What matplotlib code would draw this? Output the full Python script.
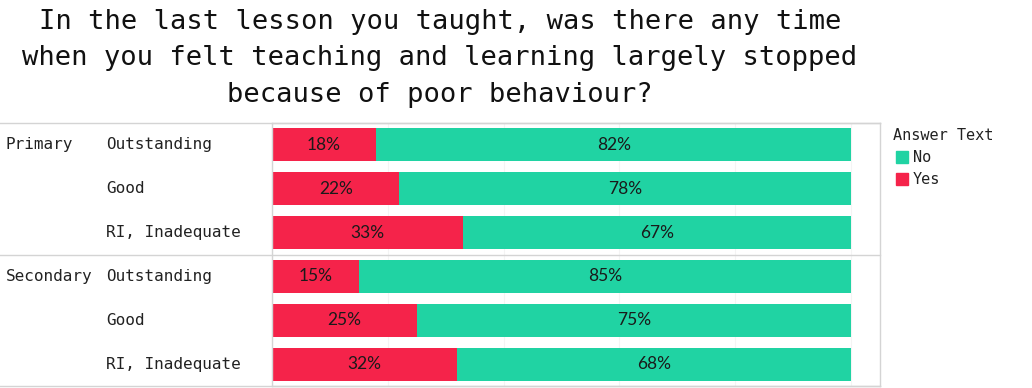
import matplotlib
matplotlib.use('Agg')
import matplotlib.pyplot as plt
import numpy as np

title = ("In the last lesson you taught, was there any time\n"
         "when you felt teaching and learning largely stopped\n"
         "because of poor behaviour?")
groups = ['Primary', 'Secondary']
ratings = ['Outstanding', 'Good', 'RI, Inadequate']
yes_pct = [18, 22, 33, 15, 25, 32]
no_pct = [82, 78, 67, 85, 75, 68]

red = '#f5234a'
teal = '#20d3a3'
line_c = '#d4d4d4'
mono = 'DejaVu Sans Mono'

fig = plt.figure(figsize=(10.32, 3.88), dpi=100)
W, H = 1032, 388
ax = fig.add_axes([272 / W, 1 - 386 / H, (880 - 272) / W, (386 - 123) / H])

y = np.arange(len(yes_pct))
yes = np.array(yes_pct) / 100
no = np.array(no_pct) / 100
ax.barh(y, yes, height=0.75, color=red, zorder=2)
ax.barh(y, no, left=yes, height=0.75, color=teal, zorder=2)

for i in range(len(y)):
    ax.text(yes[i] / 2, y[i], f'{yes_pct[i]}%', ha='center', va='center',
            fontsize=12.5, family='Lato', color='#1a1a1a', zorder=3)
    ax.text(yes[i] + no[i] / 2, y[i], f'{no_pct[i]}%', ha='center', va='center',
            fontsize=12.5, family='Lato', color='#1a1a1a', zorder=3)

ax.set_xlim(0, 1.05)
ax.set_ylim(len(y) - 0.5, -0.5)
ax.set_xticks(np.arange(0, 1.01, 0.2))
ax.grid(axis='x', color='#f4f4f4', linewidth=0.8, zorder=0)
ax.tick_params(left=False, bottom=False, labelleft=False, labelbottom=False)
for s in ax.spines.values():
    s.set_color(line_c)
    s.set_linewidth(1)

# row labels on the left
x0 = -272 / (880 - 272)
for gi, g in enumerate(groups):
    ax.text(x0 * 1.05 + 6 / 608 * 1.05, gi * 3, g, transform=ax.transData,
            ha='left', va='center', fontsize=11.5, family=mono, color='#222222')
    for ri, r in enumerate(ratings):
        ax.text(x0 * 1.05 + 106 / 608 * 1.05, gi * 3 + ri, r, ha='left', va='center',
                fontsize=11.5, family=mono, color='#222222')

# separator lines across the label column
for yy in [-0.5, 2.5, 5.5]:
    ax.plot([x0 * 1.05, 1.05], [yy, yy], color=line_c, lw=1, clip_on=False, zorder=4)

fig.text(440 / W, 1 - 9 / H, title, ha='center', va='top', fontsize=19.5,
         family=mono, color='#111111', linespacing=1.52)

# legend
fig.text(893 / W, 1 - 136 / H, 'Answer Text', ha='left', va='center',
         fontsize=11, family=mono, color='#222222')
for i, (lab, c) in enumerate([('No', teal), ('Yes', red)]):
    yc = 157 + 22 * i
    fig.patches.append(plt.Rectangle((896 / W, 1 - (yc + 6) / H), 12 / W, 12 / H,
                                     transform=fig.transFigure, color=c))
    fig.text(913 / W, 1 - yc / H, lab, ha='left', va='center',
             fontsize=11, family=mono, color='#222222')

fig.savefig('out.png', dpi=100, facecolor='white')
